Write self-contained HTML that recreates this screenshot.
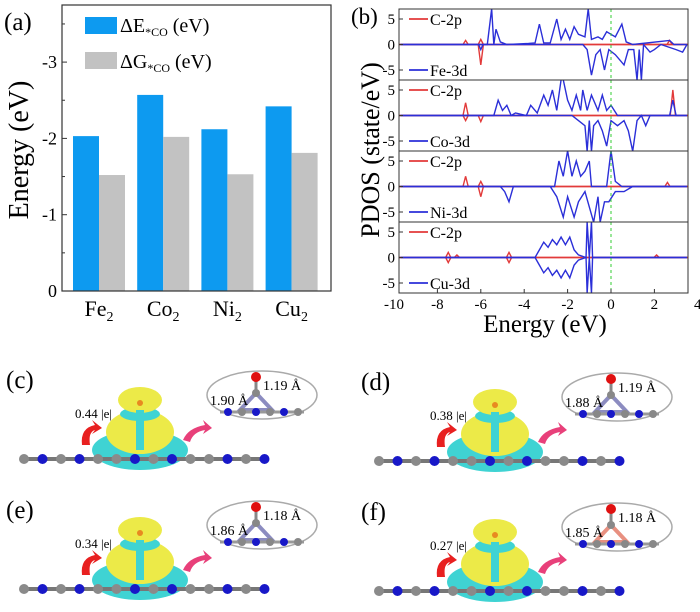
<!DOCTYPE html>
<html><head><meta charset="utf-8"><style>
body{margin:0;background:#fff;}
svg{display:block;font-family:"Liberation Serif",serif;}
</style></head><body>
<svg id="fig" width="700" height="612" viewBox="0 0 700 612">
<g id="pa"></g>
<g id="pb"></g>
<g id="mols"></g>
</svg>
<script>
// ---------- Panel (a) data ----------
const catsA = ["Fe", "Co", "Ni", "Cu"];
const dE = [-2.03, -2.57, -2.12, -2.42];
const dG = [-1.52, -2.02, -1.53, -1.81];
const ticksA = [0, -1, -2, -3];

// ---------- Panel (b) data ----------
const pdosLabels = ["Fe-3d", "Co-3d", "Ni-3d", "Cu-3d"];
const xTicksB = [-10, -8, -6, -4, -2, 0, 2, 4];
const yTicksB = [5, 0, -5];
const feUp = [[-9.7,0],[-5.7,0],[-5.5,7],[-5.4,0],[-5.3,3],[-5.1,0.5],[-4.8,0],[-3.8,0.2],[-3.5,0.3],[-3.3,4],[-3.1,0.3],[-2.8,0.3],[-2.5,5],[-2.3,1],[-2.1,3],[-1.9,1],[-1.7,3.5],[-1.5,2],[-1.2,1.5],[-1.05,7],[-0.9,1],[-0.6,1.5],[-0.4,1],[-0.2,2.5],[0,2],[0.2,1.5],[0.5,4],[0.7,0.5],[1,0],[2.7,0.8],[2.9,0],[3.5,0]];
const feDn = [[-9.7,0],[-6.1,0],[-6,-1],[-5.9,0],[-1.3,0],[-1.1,-1],[-0.9,-6],[-0.7,-2],[-0.5,-1],[-0.3,-5],[-0.1,-1],[0.2,-2],[0.4,-3],[0.6,-4],[0.8,-1],[1.05,-1],[1.2,-7],[1.3,-1],[1.4,-7],[1.5,0],[1.8,-1.5],[2,-1],[2.3,0],[3,-1],[3.3,-1.5],[3.5,0]];
const coUp = [[-9.7,0],[-5.4,0],[-5.2,3],[-5,1],[-4.8,2],[-4.6,0],[-4.4,0.5],[-3.9,0],[-3.7,2],[-3.4,0.5],[-3.1,4],[-2.9,2],[-2.7,5],[-2.5,1],[-2.3,7],[-2.2,7],[-2,3],[-1.8,1],[-1.6,4],[-1.4,1],[-1.3,5],[-1.1,1],[-0.9,4],[-0.6,1],[-0.4,4],[-0.2,1],[0,2],[0.3,0],[2.7,0],[2.85,3],[3,0],[3.5,0]];
const coDn = [[-9.7,0],[-1.8,0],[-1.5,-1],[-1.2,-2],[-1.1,-7],[-1,-1],[-0.9,-7],[-0.8,-2],[-0.6,-1],[-0.4,-3],[-0.2,-6],[0,-1],[0.3,-2],[0.6,-1],[0.8,-3],[1,-7],[1.2,-1],[1.4,0],[1.6,-2],[1.8,0],[3.5,0]];
const niUp = [[-9.7,0],[-2.6,0],[-2.4,5],[-2.2,2],[-2,7],[-1.8,2],[-1.6,5],[-1.4,2],[-1.2,3],[-1,5],[-0.9,0],[-0.2,0],[0,7],[0.2,1],[0.5,0],[3.5,0]];
const niDn = [[-9.7,0],[-5.1,0],[-4.9,-1],[-4.7,-3],[-4.5,0],[-2.8,0],[-2.5,-2],[-2.2,-6],[-2,-2],[-1.7,-6],[-1.5,-3],[-1.2,-1],[-1,-4],[-0.8,-7],[-0.6,-2],[-0.5,-7],[-0.3,-3],[-0.1,-3],[0.2,-1],[0.6,-1],[1,0],[3.5,0]];
const cuUp = [[-9.7,0],[-3.5,0],[-3.3,1.5],[-3.1,3],[-2.9,2],[-2.7,3.5],[-2.5,2.5],[-2.3,4],[-2.1,2.5],[-1.9,4],[-1.7,1.5],[-1.5,0.5],[-1.15,0],[-1.1,7],[-1,0],[-0.9,7],[-0.85,0],[3.5,0]];
const cuDn = [[-9.7,0],[-3.5,0],[-3.3,-1.5],[-3.1,-3],[-2.9,-2],[-2.7,-3.5],[-2.5,-2.5],[-2.3,-4],[-2.1,-2.5],[-1.9,-4],[-1.7,-1.5],[-1.5,-0.5],[-1.15,0],[-1.1,-7],[-1,0],[-0.9,-7],[-0.85,0],[3.5,0]];
const blueUp = [feUp, coUp, niUp, cuUp];
const blueDn = [feDn, coDn, niDn, cuDn];
const redPeaks = [
  [[-6.7,0.8],[-6,-4],[-6,1],[2.7,0.8]],
  [[-6.7,2.5],[-6.7,-1],[-6,-1.2],[2.85,5]],
  [[-6.7,2],[-6,-2],[-6,1],[2.6,0.8]],
  [[-7.5,1],[-7.5,-1],[-7.1,0.5],[-4.7,1],[-4.7,-1],[2.1,0.5]]
];

// ---------- Molecule panels data ----------
const molLabels = ["(c)", "(d)", "(e)", "(f)"];
const charges = ["0.44 |e|", "0.38 |e|", "0.34 |e|", "0.27 |e|"];
const bond1 = ["1.90 Å", "1.88 Å", "1.86 Å", "1.85 Å"];
const bond2 = ["1.19 Å", "1.19 Å", "1.18 Å", "1.18 Å"];

const NS = "http://www.w3.org/2000/svg";
function mk(parent, tag, attrs, name, text) {
  const e = document.createElementNS(NS, tag);
  for (const k in attrs) e.setAttribute(k, attrs[k]);
  
  
  if (text !== undefined) e.textContent = text;
  parent.appendChild(e);
  return e;
}

// ---------- draw panel (a) ----------
(function () {
  const g = document.getElementById('pa');
  const L = 62, R = 331, T = 5, B = 291;
  const yA = v => B + v * 76.3;
  const step = 64.2, x0 = 73, bw = 26;
  mk(g, 'text', {x: 4, y: 30, 'font-size': 25}, 'panel-a-label', '(a)');
  for (let i = 0; i < catsA.length; i++) {
    const xb = x0 + i * step;
    mk(g, 'rect', {x: xb, y: yA(dE[i]), width: bw, height: B - yA(dE[i]), fill: '#0d9af0'}, 'bar-dE-' + catsA[i].toLowerCase());
    mk(g, 'rect', {x: xb + bw, y: yA(dG[i]), width: bw, height: B - yA(dG[i]), fill: '#c2c2c2'}, 'bar-dG-' + catsA[i].toLowerCase());
    const t = mk(g, 'text', {x: xb + bw, y: 316, 'font-size': 22, 'text-anchor': 'middle'}, 'x-tick-' + catsA[i].toLowerCase(), catsA[i]);
    const s = document.createElementNS(NS, 'tspan');
    s.setAttribute('font-size', 14); s.setAttribute('dy', 5); s.textContent = '2';
    t.appendChild(s);
  }
  mk(g, 'rect', {x: L, y: T, width: R - L, height: B - T, fill: 'none', stroke: '#333', 'stroke-width': 1.2}, 'plot-frame-a');
  for (const v of ticksA) {
    mk(g, 'line', {x1: L, x2: L + 5, y1: yA(v), y2: yA(v), stroke: '#333'}, 'y-tick-a');
    mk(g, 'text', {x: L - 5, y: yA(v) + 6, 'font-size': 18, 'text-anchor': 'end'}, 'y-tick-label-a', String(v));
  }
  for (const v of [-0.5, -1.5, -2.5, -3.5]) mk(g, 'line', {x1: L, x2: L + 3, y1: yA(v), y2: yA(v), stroke: '#333'}, 'y-minor-tick-a');
  mk(g, 'text', {x: 0, y: 0, 'font-size': 28, 'text-anchor': 'middle', transform: 'translate(28,150) rotate(-90)'}, 'y-axis-title-a', 'Energy (eV)');
  // legend
  mk(g, 'rect', {x: 85, y: 17, width: 32, height: 17, fill: '#0d9af0'}, 'legend-swatch-dE');
  const l1 = mk(g, 'text', {x: 120, y: 32, 'font-size': 20}, 'legend-entry-dE', 'ΔE');
  const a = document.createElementNS(NS, 'tspan'); a.setAttribute('font-size', 12); a.setAttribute('dy', 4); a.textContent = '*CO'; l1.appendChild(a);
  const b = document.createElementNS(NS, 'tspan'); b.setAttribute('dy', -4); b.textContent = ' (eV)'; l1.appendChild(b);
  mk(g, 'rect', {x: 85, y: 52, width: 32, height: 17, fill: '#c2c2c2'}, 'legend-swatch-dG');
  const l2 = mk(g, 'text', {x: 120, y: 68, 'font-size': 20}, 'legend-entry-dG', 'ΔG');
  const c = document.createElementNS(NS, 'tspan'); c.setAttribute('font-size', 12); c.setAttribute('dy', 4); c.textContent = '*CO'; l2.appendChild(c);
  const d = document.createElementNS(NS, 'tspan'); d.setAttribute('dy', -4); d.textContent = ' (eV)'; l2.appendChild(d);
})();

// ---------- draw panel (b) ----------
(function () {
  const g = document.getElementById('pb');
  const L = 399, R = 688, T = 9, H = 71;
  const xB = e => 611 + e * 21.7;
  mk(g, 'text', {x: 351, y: 24, 'font-size': 23}, 'panel-b-label', '(b)');
  for (let p = 0; p < 4; p++) {
    const top = T + p * H, mid = top + 35.5;
    const yB = v => mid - v * 5.1;
    const clip = mk(g, 'clipPath', {id: 'cp' + p}, 'clip-' + p);
    mk(clip, 'rect', {x: L, y: top, width: R - L, height: H}, 'clip-rect');
    const cg = mk(g, 'g', {'clip-path': 'url(#cp' + p + ')'}, 'pdos-subplot-' + p);
    mk(cg, 'line', {x1: L, x2: R, y1: yB(0), y2: yB(0), stroke: '#e23a3a', 'stroke-width': 1.8}, 'c2p-baseline');
    for (const pk of redPeaks[p]) {
      const pts = [[pk[0] - 0.12, 0], [pk[0], pk[1]], [pk[0] + 0.12, 0]].map(q => xB(q[0]) + ',' + yB(q[1])).join(' ');
      mk(cg, 'polyline', {points: pts, fill: 'none', stroke: '#e23a3a', 'stroke-width': 1.4}, 'c2p-peak');
    }
    for (const arr of [blueUp[p], blueDn[p]]) {
      const pts = arr.map(q => xB(q[0]) + ',' + yB(q[1])).join(' ');
      mk(cg, 'polyline', {points: pts, fill: 'none', stroke: '#2b2fd8', 'stroke-width': 1.4}, 'metal-3d-line');
    }
    mk(cg, 'line', {x1: xB(0), x2: xB(0), y1: top, y2: top + H, stroke: '#3c3', 'stroke-dasharray': '3,3'}, 'fermi-level-line');
    mk(g, 'rect', {x: L, y: top, width: R - L, height: H, fill: 'none', stroke: '#333'}, 'subplot-frame');
    for (const v of yTicksB) {
      mk(g, 'line', {x1: L, x2: L + 4, y1: yB(v), y2: yB(v), stroke: '#333'}, 'y-tick-b');
      mk(g, 'text', {x: L - 4, y: yB(v) + 5, 'font-size': 15, 'text-anchor': 'end'}, 'y-tick-label-b', String(v));
    }
    // legend
    mk(g, 'line', {x1: 409, x2: 428, y1: top + 10, y2: top + 10, stroke: '#e23a3a', 'stroke-width': 1.8}, 'legend-swatch-c2p');
    mk(g, 'text', {x: 430, y: top + 16, 'font-size': 16}, 'legend-entry-c2p', 'C-2p');
    mk(g, 'line', {x1: 409, x2: 428, y1: top + 61, y2: top + 61, stroke: '#2b2fd8', 'stroke-width': 1.8}, 'legend-swatch-3d');
    mk(g, 'text', {x: 430, y: top + 67, 'font-size': 16}, 'legend-entry-3d', pdosLabels[p]);
  }
  const B = T + 4 * H;
  for (const v of xTicksB) {
    if (xB(v) >= L - 1 && xB(v) <= R + 1) mk(g, 'line', {x1: xB(v), x2: xB(v), y1: B, y2: B - 4, stroke: '#333'}, 'x-tick-b');
    mk(g, 'text', {x: xB(v), y: B + 16, 'font-size': 15, 'text-anchor': 'middle'}, 'x-tick-label-b', String(v));
  }
  mk(g, 'text', {x: 545, y: 332, 'font-size': 25, 'text-anchor': 'middle'}, 'x-axis-title-b', 'Energy (eV)');
  mk(g, 'text', {x: 0, y: 0, 'font-size': 26, 'text-anchor': 'middle', transform: 'translate(379,150) rotate(-90)'}, 'y-axis-title-b', 'PDOS (state/eV)');
})();

// ---------- molecule panels ----------
(function () {
  const g = document.getElementById('mols');
  const offs = [[0, 0], [355, 2], [0, 130], [355, 132]];
  for (let i = 0; i < 4; i++) {
    const ox = offs[i][0], oy = offs[i][1];
    const pg = mk(g, 'g', {transform: 'translate(' + ox + ',' + oy + ')'}, 'panel-' + molLabels[i].replace(/[()]/g, ''));
    mk(pg, 'text', {x: 6, y: 388, 'font-size': 25}, 'panel-label', molLabels[i]);
    // charge density blob
    mk(pg, 'ellipse', {cx: 140, cy: 450, rx: 48, ry: 20, fill: '#3fd3d3'}, 'depletion-lobe');
    mk(pg, 'ellipse', {cx: 140, cy: 432, rx: 34, ry: 22, fill: '#ecea48'}, 'accumulation-lobe');
    mk(pg, 'ellipse', {cx: 140, cy: 414, rx: 20, ry: 7, fill: '#3fd3d3'}, 'depletion-ring');
    mk(pg, 'ellipse', {cx: 140, cy: 400, rx: 22, ry: 13, fill: '#ecea48'}, 'co-lobe');
    mk(pg, 'circle', {cx: 140, cy: 403, r: 3, fill: '#e88a20'}, 'co-center');
    mk(pg, 'rect', {x: 136, y: 410, width: 8, height: 40, fill: '#3fd3d3'}, 'depletion-stem');
    // chain
    mk(pg, 'line', {x1: 20, x2: 268, y1: 459, y2: 459, stroke: '#777', 'stroke-width': 4}, 'substrate-bonds');
    for (let k = 0; k < 14; k++) {
      const blue = [1, 3, 6, 8, 11, 13].includes(k);
      mk(pg, 'circle', {cx: 24 + k * 18.5, cy: 459, r: 5, fill: blue ? '#1818c8' : '#8a8a8a'}, blue ? 'n-atom' : 'c-atom');
    }
    mk(pg, 'text', {x: 75, y: 418, 'font-size': 13}, 'charge-transfer-label', charges[i]);
    mk(pg, 'path', {d: 'M82 445 Q80 428 95 425 L92 420 L102 428 L92 434 L95 430 Q88 432 90 445 Z', fill: '#e82020'}, 'charge-arrow');
    mk(pg, 'path', {d: 'M183 440 Q188 428 205 425 L203 420 L212 428 L203 434 L205 430 Q193 432 190 442 Z', fill: '#e8407a'}, 'zoom-arrow');
    // inset
    mk(pg, 'ellipse', {cx: 262, cy: 395, rx: 55, ry: 24, fill: '#fff', stroke: '#aaa', 'stroke-width': 1.5}, 'inset-ellipse');
    mk(pg, 'polygon', {points: '256,393 240,410 272,410', fill: 'none', stroke: i === 3 ? '#e89080' : '#8c8cc0', 'stroke-width': 4}, 'metal-dimer-bonds');
    mk(pg, 'line', {x1: 220, x2: 304, y1: 412, y2: 412, stroke: '#999', 'stroke-width': 3}, 'inset-substrate');
    for (let k = 0; k < 6; k++) mk(pg, 'circle', {cx: 228 + k * 14, cy: 412, r: 4, fill: k % 2 ? '#888' : '#1818c8'}, 'inset-atom');
    mk(pg, 'line', {x1: 256, x2: 256, y1: 380, y2: 393, stroke: '#888', 'stroke-width': 3}, 'co-bond');
    mk(pg, 'circle', {cx: 256, cy: 393, r: 4, fill: '#888'}, 'c-atom-co');
    mk(pg, 'circle', {cx: 256, cy: 377, r: 5, fill: '#e01010'}, 'o-atom');
    mk(pg, 'text', {x: 210, y: 405, 'font-size': 14}, 'metal-c-bond-length', bond1[i]);
    mk(pg, 'text', {x: 263, y: 390, 'font-size': 14}, 'c-o-bond-length', bond2[i]);
  }
})();
</script>
</body></html>
